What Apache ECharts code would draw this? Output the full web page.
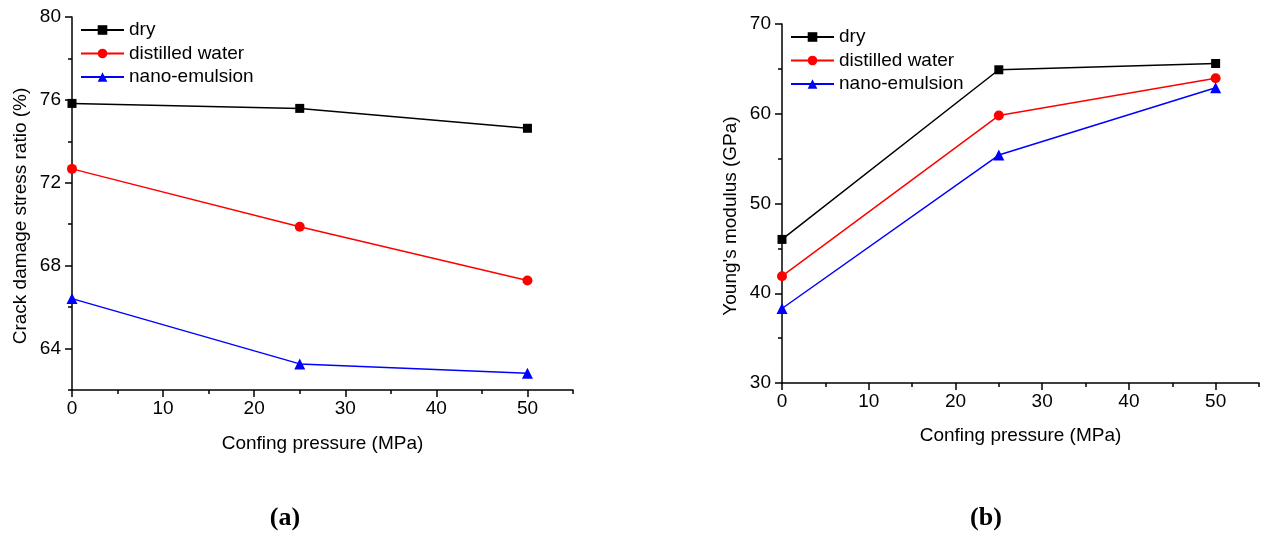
<!DOCTYPE html>
<html>
<head>
<meta charset="utf-8">
<script src="https://cdn.jsdelivr.net/npm/echarts@6/dist/echarts.min.js"></script>
<style>
html,body{margin:0;padding:0;background:#fff;}
#chart{width:1264px;height:538px;}
</style>
</head>
<body>
<div id="chart"></div>
<script>
// ---- data ----
var pressure = [0, 25, 50];
var seriesNames = ['dry', 'distilled water', 'nano-emulsion'];
// (a) crack damage stress ratio (%)
var crackDry = [75.83, 75.59, 74.63];
var crackWater = [72.67, 69.88, 67.28];
var crackNano = [66.41, 63.26, 62.81];
// (b) Young's modulus (GPa)
var youngDry = [46.0, 64.9, 65.6];
var youngWater = [41.9, 59.8, 63.96];
var youngNano = [38.3, 55.4, 62.9];
// tick labels
var xMajor = [0, 10, 20, 30, 40, 50];
var xMinor = [5, 15, 25, 35, 45, 55];
var yaMajor = [64, 68, 72, 76, 80];
var yaMinor = [62, 66, 70, 74, 78];
var ybMajor = [30, 40, 50, 60, 70];
var ybMinor = [35, 45, 55, 65];
var captions = ['(a)', '(b)'];

var FONT = '"Liberation Sans", Arial, sans-serif';
var FS = 19;
var colors = ['#000000', '#ff0000', '#0000ff'];
var symbols = ['rect', 'circle', 'triangle'];
var symSizes = [9, 10, 11];

function pts(arr){ return pressure.map(function(p,i){ return [p, arr[i]]; }); }

var chart = echarts.init(document.getElementById('chart'), null, {renderer:'canvas'});

function majorX(grid, nameGap){
  return {
    type:'value', gridIndex:grid, min:0, max:55, interval:5, position:'bottom',
    name:'Confing pressure (MPa)', nameLocation:'middle', nameGap:nameGap,
    nameTextStyle:{fontFamily:FONT, fontSize:FS, color:'#000'},
    axisLine:{show:true, lineStyle:{color:'#000', width:1.5}},
    axisTick:{show:true, inside:false, length:7, customValues:xMajor, lineStyle:{color:'#000', width:1.5}},
    axisLabel:{show:true, customValues:xMajor, margin:9, fontFamily:FONT, fontSize:FS, color:'#000'},
    splitLine:{show:false}
  };
}
function minorX(grid){
  return {
    type:'value', gridIndex:grid, min:0, max:55, interval:5, position:'bottom',
    axisLine:{show:false},
    axisTick:{show:true, inside:false, length:4, customValues:xMinor, lineStyle:{color:'#000', width:1.5}},
    axisLabel:{show:false}, splitLine:{show:false}
  };
}
function majorY(grid, min, max, interval, majors, name){
  return {
    type:'value', gridIndex:grid, min:min, max:max, interval:interval, position:'left',
    name:name, nameLocation:'middle', nameGap:42,
    nameTextStyle:{fontFamily:FONT, fontSize:FS, color:'#000', padding:[0, 25, 0, 0]},
    axisLine:{show:true, lineStyle:{color:'#000', width:1.5}},
    axisTick:{show:true, inside:false, length:7, customValues:majors, lineStyle:{color:'#000', width:1.5}},
    axisLabel:{show:true, customValues:majors, margin:11, fontFamily:FONT, fontSize:FS, color:'#000'},
    splitLine:{show:false}
  };
}
function minorY(grid, min, max, interval, minors){
  return {
    type:'value', gridIndex:grid, min:min, max:max, interval:interval, position:'left',
    axisLine:{show:false},
    axisTick:{show:true, inside:false, length:4, customValues:minors, lineStyle:{color:'#000', width:1.5}},
    axisLabel:{show:false}, splitLine:{show:false}
  };
}

var seriesA = [crackDry, crackWater, crackNano];
var seriesB = [youngDry, youngWater, youngNano];
var series = [];
[seriesA, seriesB].forEach(function(set, g){
  set.forEach(function(arr, i){
    series.push({
      type:'line', name:seriesNames[i], xAxisIndex:g*2, yAxisIndex:g*2,
      data:pts(arr), symbol:symbols[i], symbolSize:symSizes[i], showSymbol:true,
      lineStyle:{color:colors[i], width:1.5}, itemStyle:{color:colors[i]},
      animation:false, z:3
    });
  });
});

function legend(left, top){
  return {
    left:left, top:top, orient:'vertical', padding:0, itemGap:4.5,
    itemWidth:43, itemHeight:12,
    textStyle:{fontFamily:FONT, fontSize:FS, color:'#000', lineHeight:19},
    data:seriesNames, selectedMode:false
  };
}

var option = {
  animation:false,
  backgroundColor:'#fff',
  grid:[
    {left:72, top:17, width:501, height:373},
    {left:782, top:24, width:477, height:359}
  ],
  xAxis:[majorX(0, 44), minorX(0), majorX(1, 43), minorX(1)],
  yAxis:[
    majorY(0, 62, 80, 2, yaMajor, 'Crack damage stress ratio (%)'),
    minorY(0, 62, 80, 2, yaMinor),
    majorY(1, 30, 70, 10, ybMajor, "Young's modulus (GPa)"),
    minorY(1, 30, 70, 10, ybMinor)
  ],
  legend:[legend(80, 20.5), legend(790, 27.5)],
  series:series,
  graphic:[
    {type:'text', x:285, y:518, style:{text:captions[0], font:'bold 26px "Liberation Serif", "Times New Roman", serif', fill:'#000', textAlign:'center', textVerticalAlign:'middle'}},
    {type:'text', x:986, y:518, style:{text:captions[1], font:'bold 26px "Liberation Serif", "Times New Roman", serif', fill:'#000', textAlign:'center', textVerticalAlign:'middle'}}
  ]
};
chart.setOption(option);
</script>
</body>
</html>
